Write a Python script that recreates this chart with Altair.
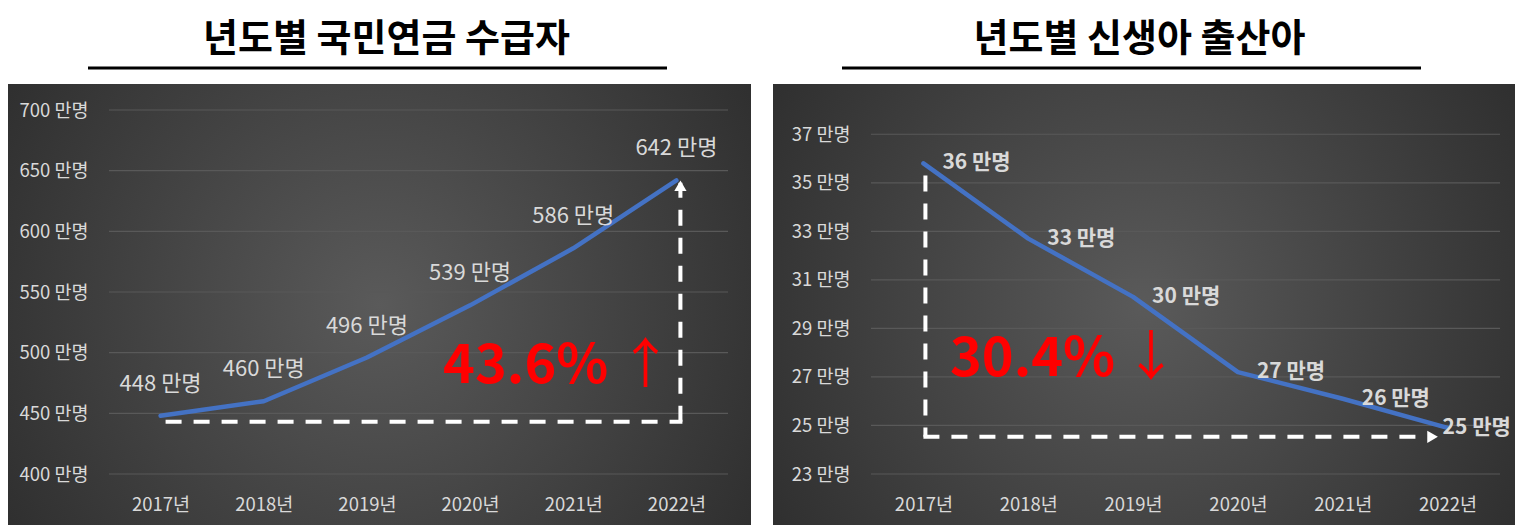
import altair as alt
import pandas as pd

# ---------------- data ----------------
years = ["2017년", "2018년", "2019년", "2020년", "2021년", "2022년"]
pension = [448, 460, 496, 539, 586, 642]          # 국민연금 수급자 (만명)
births = [35.8, 32.7, 30.3, 27.2, 26.1, 24.9]      # 신생아 출산아 (만명)
pension_ticks = [400, 450, 500, 550, 600, 650, 700]
birth_ticks = [23, 25, 27, 29, 31, 33, 35, 37]
pension_label = ["448 만명", "460 만명", "496 만명", "539 만명", "586 만명", "642 만명"]
birth_label = ["36 만명", "33 만명", "30 만명", "27 만명", "26 만명", "25 만명"]

titles = ["년도별 국민연금 수급자", "년도별 신생아 출산아"]
change_text = ["43.6%", "30.4%"]
change_arrow = ["↑", "↓"]

# guide (dashed) annotation values in data units
pension_base = 443
pension_top = 640
birth_top = 35.3
birth_base = 24.53

FONT = "Noto Sans CJK KR"
LABEL = "#d9d9d9"
BLUE = "#4472C4"
GRID = "#595959"

W1, W2, H = 619, 629, 364

gradient = alt.RadialGradient(
    gradient="radial",
    stops=[alt.GradientStop(offset=0, color="#5a5a5a"),
           alt.GradientStop(offset=1, color="#232323")],
    x1=0.5, y1=0.5, r1=0, x2=0.5, y2=0.5, r2=0.75,
)

one = pd.DataFrame({"k": [0]})


def xenc():
    return alt.X("year:N", sort=years,
                 scale=alt.Scale(type="point", domain=years, padding=0.5),
                 axis=alt.Axis(domain=False, ticks=False, grid=False, labelAngle=0,
                               labelPadding=21, labelFontSize=18.5, labelColor=LABEL,
                               labelFont=FONT, zindex=1, title=None),
                 title=None)


def yenc(domain, ticks):
    return alt.Y("value:Q",
                 scale=alt.Scale(domain=domain, nice=False, zero=False),
                 axis=alt.Axis(values=ticks, labelExpr="datum.value + ' 만명'",
                               domain=False, ticks=False, grid=False,
                               labelPadding=21, labelFontSize=18.5, labelColor=LABEL,
                               labelFont=FONT, zindex=1, title=None),
                 title=None)


def panel(values, labels, ticks, domain, W, title, title_dx, rect_x, rect_x2,
          ul_x, ul_x2, kind):
    df = pd.DataFrame({"year": years, "value": values, "label": labels})
    X = xenc()
    Y = yenc(domain, ticks)

    bg = alt.Chart(one).mark_rect(fill=gradient).encode(
        x=alt.value(rect_x), x2=alt.value(rect_x2),
        y=alt.value(-26), y2=alt.value(H + 51))

    underline = alt.Chart(one).mark_rule(color="black", strokeWidth=3).encode(
        x=alt.value(ul_x), x2=alt.value(ul_x2), y=alt.value(-42))

    grid = alt.Chart(pd.DataFrame({"value": ticks})).mark_rule(
        color=GRID, strokeWidth=1.2).encode(y=Y)

    line = alt.Chart(df).mark_line(color=BLUE, strokeWidth=4.5,
                                   strokeJoin="round", strokeCap="round").encode(x=X, y=Y)

    layers = [bg, underline, grid]

    if kind == "up":
        gh = pd.DataFrame({"year": [years[0]], "year2": [years[-1]], "value": [pension_base]})
        hrule = alt.Chart(gh).mark_rule(color="white", strokeWidth=4, strokeDash=[16, 12],
                                        xOffset=5, x2Offset=6).encode(
            x=X, x2="year2:N", y=Y)
        gv = pd.DataFrame({"year": [years[-1]], "value": [pension_base], "value2": [pension_top]})
        vrule = alt.Chart(gv).mark_rule(color="white", strokeWidth=4, strokeDash=[16, 12],
                                        xOffset=4).encode(x=X, y=Y, y2="value2:Q")
        head = alt.Chart(pd.DataFrame({"year": [years[-1]], "value": [pension_top]})).mark_point(
            shape="triangle-up", filled=True, color="white", size=150, opacity=1,
            xOffset=4, yOffset=3).encode(x=X, y=Y)
        layers += [hrule, vrule, head, line]
        lbl = alt.Chart(df).mark_text(fontSize=22, color=LABEL, font=FONT, dy=-32,
                                      baseline="middle").encode(x=X, y=Y, text="label:N")
        layers.append(lbl)
        big = alt.Chart(pd.DataFrame({"year": [years[4]], "value": [475], "t": [change_text[0]]})).mark_text(
            fontSize=54, fontWeight="bold", color="#ff0000", font=FONT, align="right",
            baseline="alphabetic", dx=35).encode(x=X, y=Y, text="t:N")
        arr = alt.Chart(pd.DataFrame({"year": [years[5]], "value": [475], "t": [change_arrow[0]]})).mark_text(
            fontSize=54, color="#ff0000", font=FONT, align="center",
            baseline="alphabetic", dx=-31).encode(x=X, y=Y, text="t:N")
        layers += [big, arr]
    else:
        gv = pd.DataFrame({"year": [years[0]], "value": [birth_top], "value2": [birth_base]})
        vrule = alt.Chart(gv).mark_rule(color="white", strokeWidth=4, strokeDash=[16, 12],
                                        xOffset=2).encode(x=X, y=Y, y2="value2:Q")
        gh = pd.DataFrame({"year": [years[0]], "year2": [years[-1]], "value": [birth_base]})
        hrule = alt.Chart(gh).mark_rule(color="white", strokeWidth=4, strokeDash=[16, 12],
                                        xOffset=0, x2Offset=-22).encode(
            x=X, x2="year2:N", y=Y)
        head = alt.Chart(pd.DataFrame({"year": [years[-1]], "value": [birth_base]})).mark_point(
            shape="triangle-right", filled=True, color="white", size=150, opacity=1,
            xOffset=-15).encode(x=X, y=Y)
        layers += [vrule, hrule, head, line]
        lbl = alt.Chart(df).transform_filter(
            alt.datum.year != years[-1]).mark_text(
            fontSize=21, fontWeight="bold", color=LABEL, font=FONT, align="left",
            baseline="middle", dx=19).encode(x=X, y=Y, text="label:N")
        lbl_last = alt.Chart(df).transform_filter(
            alt.datum.year == years[-1]).mark_text(
            fontSize=21, fontWeight="bold", color=LABEL, font=FONT, align="left",
            baseline="middle", dx=-5).encode(x=X, y=Y, text="label:N")
        layers += [lbl, lbl_last]
        big = alt.Chart(pd.DataFrame({"year": [years[2]], "value": [27.04], "t": [change_text[1]]})).mark_text(
            fontSize=54, fontWeight="bold", color="#ff0000", font=FONT, align="right",
            baseline="alphabetic", dx=-18).encode(x=X, y=Y, text="t:N")
        arr = alt.Chart(pd.DataFrame({"year": [years[2]], "value": [27.04], "t": [change_arrow[1]]})).mark_text(
            fontSize=54, color="#ff0000", font=FONT, align="center",
            baseline="alphabetic", dx=18).encode(x=X, y=Y, text="t:N")
        layers += [big, arr]

    return alt.layer(*layers).properties(
        width=W, height=H,
        title=alt.TitleParams(text=title, fontSize=38, fontWeight="bold", font=FONT,
                              color="black", anchor="middle", frame="group",
                              dx=title_dx, offset=8),
    )


left = panel(pension, pension_label, pension_ticks, [400, 700], W1, titles[0], -32,
             -101, W1 + 23, -21, 558, "up")
right = panel(births, birth_label, birth_ticks, [23, 38], W2, titles[1], -46,
              -98, W2 + 15, -29, 550, "down")

chart = alt.hconcat(left, right, spacing=22).properties(
    padding={"left": 0, "top": 12, "right": 0, "bottom": 0},
    background="white",
).configure_view(stroke=None)

chart.save("out.html", embed_options={"renderer": "svg", "actions": False})
